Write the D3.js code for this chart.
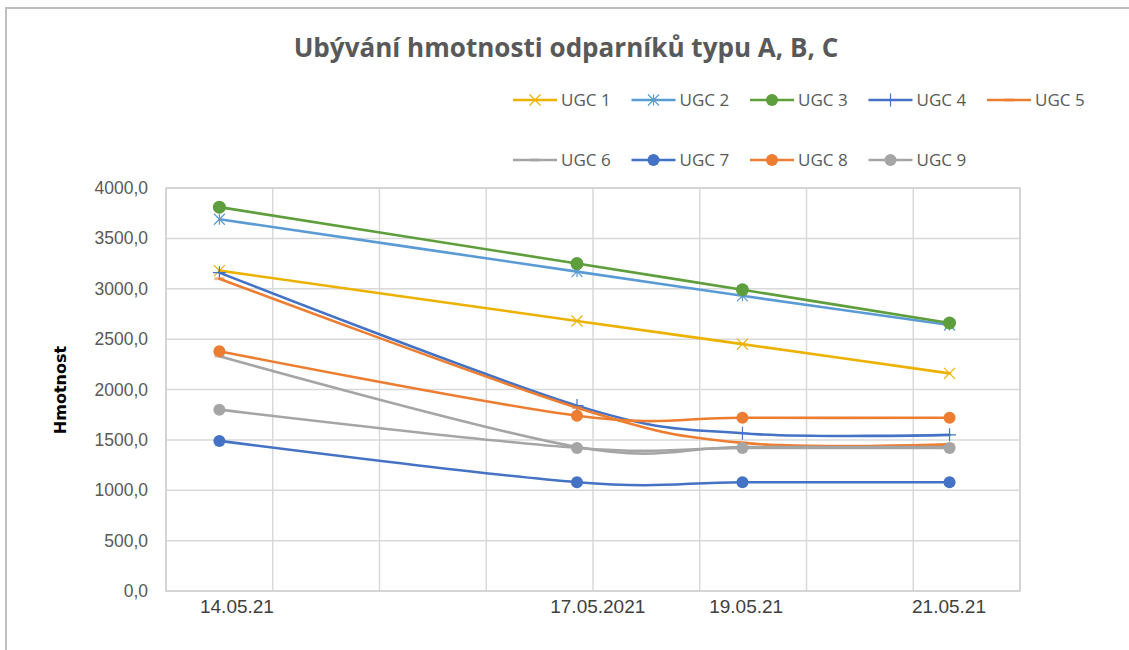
<!DOCTYPE html>
<html>
<head>
<meta charset="utf-8">
<script src="https://cdn.jsdelivr.net/npm/d3@7"></script>
<style>
  body { margin: 0; background: #fff; }
  svg { display: block; font-family: 'Open Sans', 'Liberation Sans', sans-serif; }
</style>
</head>
<body>
<div id="chart"></div>
<script>
// data
const dates = ['14.05.21', '17.05.2021', '19.05.21', '21.05.21'];
// position of each measurement on the (uneven) horizontal axis, in gridline units
const datePos = [0.5, 3.85, 5.4, 7.34];
// position of the date labels (Excel put them slightly off the points)
const labelPos = [0.66, 4.04, 5.43, 7.33];

const seriesNames = ['UGC 1', 'UGC 2', 'UGC 3', 'UGC 4', 'UGC 5', 'UGC 6', 'UGC 7', 'UGC 8', 'UGC 9'];
const ugc1 = [3180, 2680, 2450, 2160];
const ugc2 = [3690, 3170, 2930, 2640];
const ugc3 = [3810, 3250, 2990, 2660];
const ugc4 = [3160, 1840, 1565, 1550];
const ugc5 = [3100, 1820, 1470, 1455];
const ugc6 = [2330, 1430, 1430, 1430];
const ugc7 = [1490, 1080, 1080, 1080];
const ugc8 = [2380, 1740, 1720, 1720];
const ugc9 = [1800, 1420, 1420, 1420];

const seriesValues = [ugc1, ugc2, ugc3, ugc4, ugc5, ugc6, ugc7, ugc8, ugc9];
const seriesColors = ['#EDB100', '#5B9BD5', '#5F9E3C', '#4472C4', '#ED7D31', '#A5A5A5', '#4472C4', '#ED7D31', '#A5A5A5'];
const seriesMarkers = ['x', 'star', 'circle', 'plus', 'dash', 'dash', 'circle', 'circle', 'circle'];

const yTicks = [0, 500, 1000, 1500, 2000, 2500, 3000, 3500, 4000];

const width = 1129;
const height = 650;

const plot = { left: 166, right: 1020, top: 188, bottom: 591 };

const format = d3.formatLocale({ decimal: ',', thousands: '', grouping: [3], currency: ['', ' Kč'] }).format('.1f');

const svg = d3.select('#chart')
  .append('svg')
  .attr('width', width)
  .attr('height', height);

// chart frame
svg.append('rect')
  .attr('x', 6)
  .attr('y', 8)
  .attr('width', width + 10)
  .attr('height', height + 10)
  .attr('fill', '#fff')
  .attr('stroke', '#bfbfbf')
  .attr('stroke-width', 2);

const x = d3.scaleLinear()
  .domain([0, 8])
  .range([plot.left, plot.right]);

const y = d3.scaleLinear()
  .domain([0, 4000])
  .range([plot.bottom, plot.top]);

// gridlines
const grid = svg.append('g').attr('class', 'grid');

grid.selectAll('line.h')
  .data(yTicks)
  .enter()
  .append('line')
  .attr('class', 'h')
  .attr('x1', plot.left)
  .attr('x2', plot.right)
  .attr('y1', d => y(d))
  .attr('y2', d => y(d))
  .attr('stroke', '#d9d9d9')
  .attr('stroke-width', 1.5);

grid.selectAll('line.v')
  .data(d3.range(0, 9))
  .enter()
  .append('line')
  .attr('class', 'v')
  .attr('x1', d => x(d))
  .attr('x2', d => x(d))
  .attr('y1', plot.top)
  .attr('y2', plot.bottom)
  .attr('stroke', '#d9d9d9')
  .attr('stroke-width', 1.5);

// plot area border
svg.append('rect')
  .attr('x', plot.left)
  .attr('y', plot.top)
  .attr('width', plot.right - plot.left)
  .attr('height', plot.bottom - plot.top)
  .attr('fill', 'none')
  .attr('stroke', '#d0d0d0')
  .attr('stroke-width', 1.5);

// y axis
const yAxis = d3.axisLeft(y)
  .tickValues(yTicks)
  .tickFormat(format)
  .tickSize(0)
  .tickPadding(18);

svg.append('g')
  .attr('transform', `translate(${plot.left},0)`)
  .call(yAxis)
  .call(g => g.select('.domain').remove())
  .call(g => g.selectAll('text')
    .attr('fill', '#595959')
    .style('font-size', '17.5px'));

// x axis
const xAxis = d3.axisBottom(x)
  .tickValues(labelPos)
  .tickFormat((d, i) => dates[i])
  .tickSize(0)
  .tickPadding(9);

svg.append('g')
  .attr('transform', `translate(0,${plot.bottom})`)
  .call(xAxis)
  .call(g => g.select('.domain').remove())
  .call(g => g.selectAll('text')
    .attr('fill', '#404040')
    .style('font-size', '19px'));

// y axis title
svg.append('text')
  .attr('transform', `translate(66,390) rotate(-90)`)
  .attr('text-anchor', 'middle')
  .attr('fill', '#000')
  .style('font-family', "'DejaVu Sans', sans-serif")
  .style('font-weight', 'bold')
  .style('font-size', '16px')
  .text('Hmotnost');

// title
const title = svg.append('text')
  .attr('x', 566)
  .attr('y', 57)
  .attr('text-anchor', 'middle')
  .attr('fill', '#595959')
  .style('font-weight', '700')
  .style('font-size', '24px')
  .text('Ubývání hmotnosti odparníků typu A, B, C');

const titleWidth = title.node().getComputedTextLength();
title.style('font-size', `${24 * 545 / titleWidth}px`);

function drawMarker(g, type, color, big) {
  const s = 5.5;
  if (type === 'circle') {
    g.append('circle')
      .attr('r', big ? 6.5 : 6)
      .attr('fill', color);
  } else if (type === 'x') {
    g.append('path')
      .attr('d', `M${-s},${-s}L${s},${s}M${-s},${s}L${s},${-s}`)
      .attr('stroke', color)
      .attr('stroke-width', 1.2)
      .attr('fill', 'none');
  } else if (type === 'star') {
    g.append('path')
      .attr('d', `M${-s},${-s}L${s},${s}M${-s},${s}L${s},${-s}M0,${-s}L0,${s}`)
      .attr('stroke', color)
      .attr('stroke-width', 1.2)
      .attr('fill', 'none');
  } else if (type === 'plus') {
    g.append('path')
      .attr('d', `M${-s - 1},0L${s + 1},0M0,${-s - 1}L0,${s + 1}`)
      .attr('stroke', color)
      .attr('stroke-width', 1.2)
      .attr('fill', 'none');
  } else if (type === 'dash') {
    g.append('rect')
      .attr('x', -5)
      .attr('y', -1.5)
      .attr('width', 10)
      .attr('height', 3)
      .attr('fill', color)
      .attr('opacity', 0.55);
  }
}

const line = d3.line()
  .x((d, i) => x(datePos[i]))
  .y(d => y(d))
  .curve(d3.curveCardinal.tension(0));

const seriesLayer = svg.append('g').attr('class', 'series');

seriesValues.forEach((values, s) => {
  const g = seriesLayer.append('g');

  g.append('path')
    .datum(values)
    .attr('d', line)
    .attr('fill', 'none')
    .attr('stroke', seriesColors[s])
    .attr('stroke-width', 2.6)
    .attr('stroke-linecap', 'round');

  values.forEach((v, i) => {
    const m = g.append('g')
      .attr('transform', `translate(${x(datePos[i])},${y(v)})`);
    drawMarker(m, seriesMarkers[s], seriesColors[s], s === 2);
  });
});

// legend
const legend = svg.append('g').attr('class', 'legend');

seriesNames.forEach((name, s) => {
  const col = s % 5;
  const row = Math.floor(s / 5);
  const item = legend.append('g')
    .attr('transform', `translate(${513 + col * 118.5},${100 + row * 60})`);

  item.append('line')
    .attr('x1', 0)
    .attr('x2', 44)
    .attr('stroke', seriesColors[s])
    .attr('stroke-width', 2.6);

  const m = item.append('g').attr('transform', 'translate(22,0)');
  drawMarker(m, seriesMarkers[s], seriesColors[s], false);

  item.append('text')
    .attr('x', 48)
    .attr('y', 6)
    .attr('fill', '#595959')
    .style('font-size', '17px')
    .text(name);
});
</script>
</body>
</html>
